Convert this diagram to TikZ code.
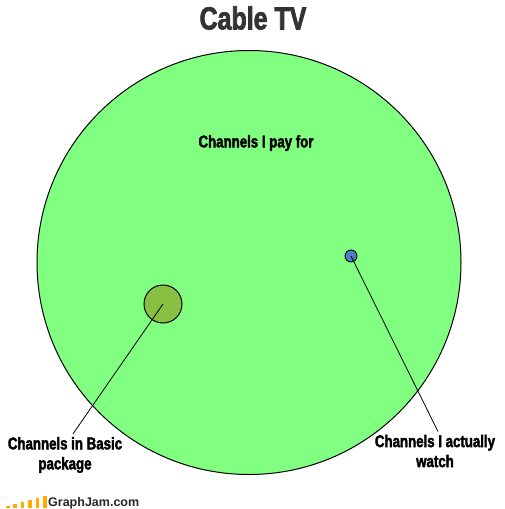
\documentclass[tikz,border=0pt]{standalone}
\usepackage{fontspec}
\setmainfont{Liberation Sans}
\newfontfamily\chartfont[FakeStretch=0.78,FakeBold=2.2]{Liberation Sans Bold}
\newfontfamily\logofont{Liberation Sans Bold}
\usetikzlibrary{positioning}
\definecolor{paidgreen}{RGB}{128,255,128}
\definecolor{basicgreen}{RGB}{138,192,66}
\definecolor{watchblue}{RGB}{74,128,200}
\definecolor{jamorange}{RGB}{255,170,0}

\begin{document}
\begin{tikzpicture}[x=1pt,y=1pt]
    \tikzstyle{every node}+=[inner sep=0pt]
    \tikzstyle{ring}=[circle,draw=black,line width=1pt]
    \tikzstyle{lbl}=[font=\chartfont\fontsize{17}{20}\selectfont,align=center]
    \useasboundingbox (0,0) rectangle (504,-509);
    \node [font=\chartfont\fontsize{32}{34}\selectfont,text=black!80] (title) at (253,-18) {Cable TV};
    \node [ring,fill=paidgreen,minimum size=424pt] (paid) at (249,-262.5) {};
    \node [lbl] (paidlbl) at (256,-143) {Channels I pay for};
    \node [ring,fill=basicgreen,minimum size=38pt] (basic) at (163,-304) {};
    \node [ring,fill=watchblue,minimum size=12pt,line width=0.9pt] (watch) at (351,-256) {};
    \node [lbl] (basiclbl) at (65,-455) {Channels in Basic\\package};
    \node [lbl] (watchlbl) at (435,-451) {Channels I actually\\watch};
    \draw [black,line width=0.8pt] (basic.center) -- ([xshift=8pt,yshift=3pt]basiclbl.north);
    \draw [black,line width=0.8pt] (watch.center) -- ([xshift=3pt,yshift=3pt]watchlbl.north);
    \foreach \i in {0,...,5}
        \fill [jamorange] (6+7.4*\i,-508) rectangle (9.5+7.4*\i,-506+2.1*\i);
    \node [anchor=west,font=\logofont\fontsize{12.5}{14}\selectfont,text=black!85] (jam) at (48,-503) {GraphJam.com};
\end{tikzpicture}
\end{document}
